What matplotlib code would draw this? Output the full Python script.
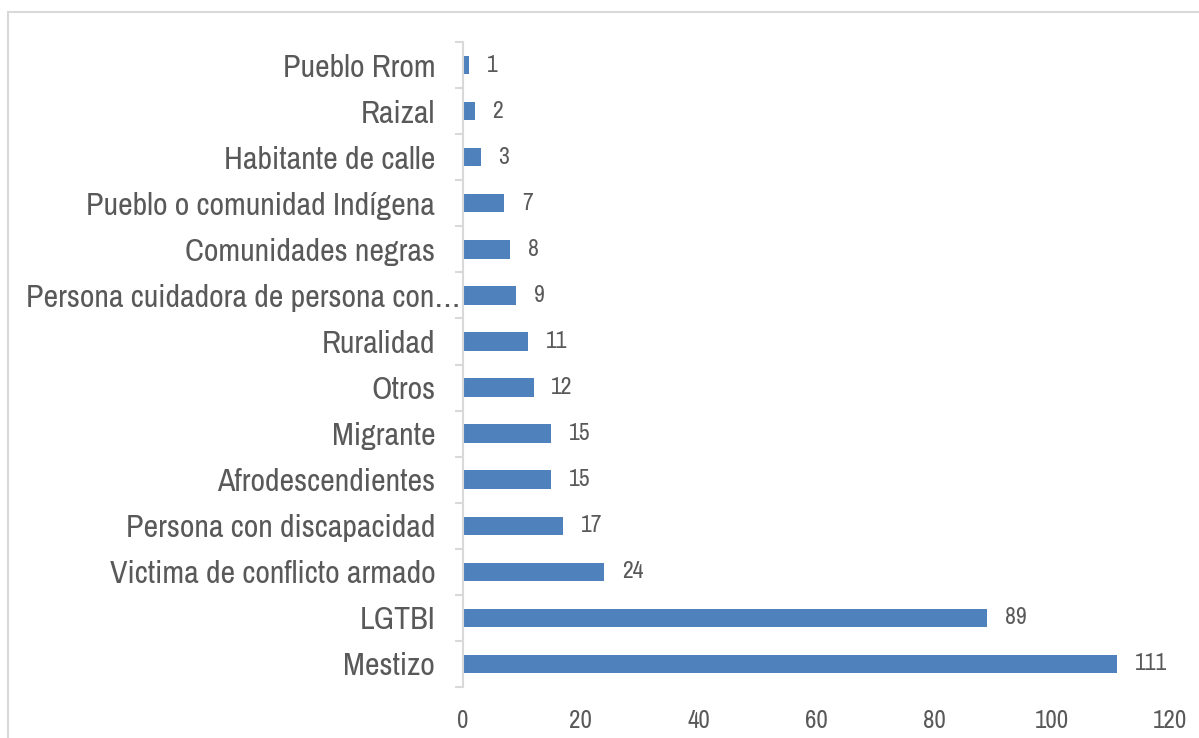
import matplotlib
matplotlib.use("Agg")
import matplotlib.pyplot as plt
import matplotlib.transforms as mtrans
import numpy as np
from matplotlib.patches import Rectangle

# Categories from top to bottom and their counts
categorias = ["Pueblo Rrom", "Raizal", "Habitante de calle",
              "Pueblo o comunidad Indígena", "Comunidades negras",
              "Persona cuidadora de persona con…", "Ruralidad", "Otros",
              "Migrante", "Afrodescendientes", "Persona con discapacidad",
              "Victima de conflicto armado", "LGTBI", "Mestizo"]
valores = [1, 2, 3, 7, 8, 9, 11, 12, 15, 15, 17, 24, 89, 111]
x_ticks = [0, 20, 40, 60, 80, 100, 120]

plt.rcParams['font.family'] = ['Archivo Narrow', 'Liberation Sans', 'DejaVu Sans']
texto = "#595959"
gris = "#D9D9D9"
azul = "#4F81BD"

fig = plt.figure(figsize=(11.99, 7.38), dpi=100)
ax = fig.add_axes([463/1199, 1-687/738, (1170-463)/1199, (687-42)/738])

# light frame around the chart
fig.patches.append(Rectangle((8/1199, -0.05), 1.1, 1-12/738+0.05,
                             transform=fig.transFigure, fill=False,
                             edgecolor=gris, linewidth=1.5))

pos = np.arange(len(categorias))
ax.barh(pos, valores, height=0.4, color=azul)
for p, v in zip(pos, valores):
    ax.text(v + 3, p, str(v), va='center', ha='left', fontsize=17, color=texto)

ax.set_ylim(len(categorias) - 0.5, -0.5)
ax.set_xlim(0, 120)
ax.set_yticks(pos)
ax.set_yticklabels(categorias, fontsize=23, color=texto)
ax.set_yticks(np.arange(-0.5, len(categorias)), minor=True)
ax.tick_params(axis='y', which='major', length=0, pad=20)
ax.tick_params(axis='y', which='minor', length=6, color=gris, width=1.5)
ax.set_xticks(x_ticks)
ax.set_xticklabels([str(t) for t in x_ticks], fontsize=18, color=texto)
ax.tick_params(axis='x', length=0, pad=16)

# the truncated label runs a bit past the others, like in the original
lab = ax.get_yticklabels()[5]
lab.set_transform(lab.get_transform() +
                  mtrans.ScaledTranslation(0.25, 0, fig.dpi_scale_trans))

for s in ['top', 'right', 'bottom']:
    ax.spines[s].set_visible(False)
ax.spines['left'].set_color(gris)
ax.spines['left'].set_linewidth(1.5)

fig.savefig("out.png", dpi=100)
